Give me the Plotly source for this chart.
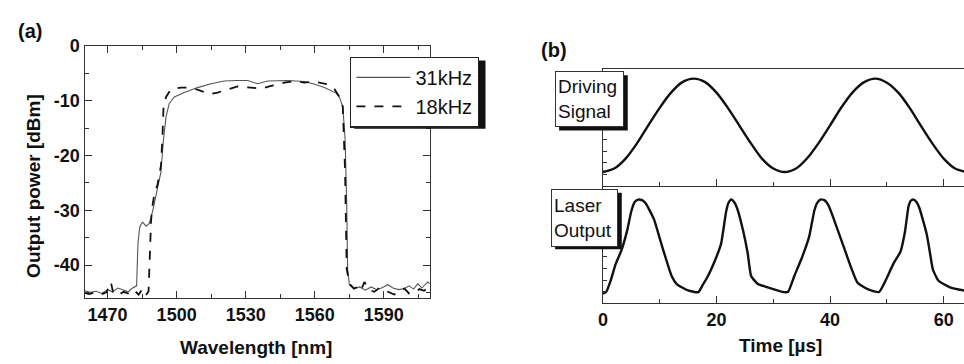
import plotly.graph_objects as go

W, H = 964, 364

# ---------------- Panel (a) data: spectra ----------------
wl_31 = [1460.0, 1462.5, 1465.0, 1467.5, 1470.0, 1472.0, 1474.5, 1477.0, 1479.0, 1480.5,
         1482.0, 1482.6, 1483.2, 1484.0, 1484.8, 1485.3, 1486.7, 1488.1, 1489.6, 1491.0,
         1492.2, 1493.2, 1494.3, 1495.4, 1496.8, 1499.0, 1503.3, 1509.1, 1514.9, 1520.7,
         1526.0, 1530.9, 1535.2, 1539.6, 1548.3, 1555.5, 1560.0, 1564.2, 1569.3, 1570.7,
         1572.2, 1573.2, 1573.9, 1574.3, 1575.1, 1577.2, 1579.5, 1582.0, 1584.5, 1587.0,
         1589.5, 1591.7, 1594.0, 1596.5, 1599.0, 1601.0, 1603.0, 1604.8, 1606.5, 1608.0,
         1609.1, 1610.0]
p_31 = [-44.7, -45.0, -44.8, -45.2, -44.5, -44.9, -44.2, -44.6, -44.9, -44.3,
        -44.0, -43.8, -36.0, -33.0, -32.4, -32.2, -32.9, -32.4, -30.1, -27.1,
        -25.0, -23.0, -17.0, -12.9, -10.5, -9.3, -8.5, -7.6, -6.9, -6.4,
        -6.3, -6.3, -6.9, -6.4, -6.3, -6.5, -7.0, -7.6, -8.6, -9.3,
        -11.1, -17.0, -28.9, -40.7, -43.7, -44.3, -44.0, -44.6, -44.0, -44.5,
        -44.1, -43.6, -44.2, -44.5, -44.3, -43.8, -44.4, -43.4, -44.2, -43.5,
        -43.1, -43.4]

wl_18 = [1460.0, 1462.0, 1464.5, 1467.0, 1469.5, 1471.4, 1472.5, 1474.5, 1477.0, 1479.5,
         1481.5, 1483.5, 1485.0, 1486.5, 1487.8, 1488.4, 1488.9, 1489.6, 1490.3, 1491.7,
         1493.2, 1493.9, 1494.3, 1495.4, 1497.5, 1501.9, 1506.2, 1510.6, 1514.2, 1517.8,
         1522.2, 1526.5, 1532.3, 1536.7, 1541.0, 1546.8, 1551.2, 1555.5, 1559.9, 1565.7,
         1568.6, 1570.7, 1572.2, 1573.2, 1573.9, 1575.1, 1577.0, 1578.7, 1580.0, 1581.6,
         1583.5, 1585.9, 1588.0, 1590.3, 1592.5, 1594.6, 1597.0, 1599.0, 1601.0, 1603.3,
         1605.5, 1607.5, 1610.0]
p_18 = [-45.1, -45.3, -45.0, -45.4, -45.0, -43.1, -45.2, -45.5, -44.9, -45.3,
        -44.6, -45.4, -44.5, -45.6, -44.8, -34.8, -31.8, -28.9, -27.1, -25.3,
        -21.8, -15.9, -11.1, -9.3, -7.9, -7.6, -7.6, -8.2, -8.8, -8.5,
        -7.9, -7.4, -7.6, -7.8, -7.3, -6.7, -6.4, -6.7, -6.5, -7.0,
        -7.9, -9.3, -11.1, -23.0, -40.7, -43.4, -44.3, -44.0, -44.7, -43.1,
        -44.5, -44.9, -44.2, -44.6, -45.0, -45.4, -44.6, -44.3, -45.2, -45.1,
        -44.4, -44.7, -44.0]

series_names = ["31kHz", "18kHz"]
wl_ticks = [1470, 1500, 1530, 1560, 1590]
p_ticks = [0, -10, -20, -30, -40]
p_ticktext = ["0", "-10", "-20", "-30", "-40"]

# ---------------- Panel (b) data: time traces ----------------
t_drive = [0, 2, 4, 6, 8, 10, 12, 14, 16, 18, 20, 22, 24, 26, 28, 30, 32,
           34, 36, 38, 40, 42, 44, 46, 48, 50, 52, 54, 56, 58, 60, 62, 64]
v_drive = [1.2, 1.5, 2.35, 3.65, 5.2, 6.7, 8.0, 8.9, 9.2, 8.9, 8.0, 6.7, 5.2, 3.7, 2.35, 1.5, 1.2,
           1.5, 2.4, 3.7, 5.2, 6.75, 8.05, 8.9, 9.2, 8.85, 8.0, 6.7, 5.15, 3.65, 2.35, 1.5, 1.2]

t_laser = [0, 0.6, 1.4, 2.2, 3.3, 4.3, 5.0, 5.6, 6.2, 6.9, 7.5, 8.2, 9.0, 10.3, 12.1, 13.0, 15.0, 16.8,
           17.6, 18.5, 20.0, 20.8, 21.7, 22.1, 22.6, 23.1, 23.6, 24.7, 25.5, 26.1, 27.3, 29.0, 31.9,
           32.6, 33.7, 35.1, 36.3, 37.2, 37.7, 38.3, 39.0, 39.6, 40.3, 42.4, 44.8, 46.5, 48.6,
           49.4, 51.2, 52.4, 53.2, 53.8, 54.2, 54.7, 55.2, 55.7, 57.0, 57.6, 58.1, 59.1, 61.1, 63.6]
v_laser = [0.83, 1.0, 2.0, 3.3, 4.6, 6.3, 7.9, 8.7, 8.9, 8.85, 8.6, 8.0, 7.2, 5.1, 2.35, 1.66, 1.11, 0.97,
           1.6, 2.35, 4.0, 5.1, 7.87, 8.6, 8.9, 8.7, 8.2, 6.21, 4.28, 2.35, 1.66, 1.38, 0.97,
           1.0, 2.35, 4.0, 5.7, 7.9, 8.6, 8.9, 8.85, 8.5, 7.7, 4.84, 1.8, 1.24, 0.97,
           1.6, 3.45, 4.45, 6.21, 8.3, 8.8, 8.9, 8.7, 8.2, 5.94, 4.28, 2.9, 1.94, 1.38, 1.11]
t_ticks = [0, 20, 40, 60]

FONT = "Liberation Sans, Arial, Helvetica, sans-serif"
AX = "#333333"

def px_x(p):
    return p / W

def px_y(p):
    return 1 - p / H

fig = go.Figure()
fig.add_trace(go.Scatter(x=wl_31, y=p_31, mode="lines", name=series_names[0],
                         line=dict(color="#555555", width=1.1), xaxis="x", yaxis="y"))
fig.add_trace(go.Scatter(x=wl_18, y=p_18, mode="lines", name=series_names[1],
                         line=dict(color="#111111", width=1.8, dash="dash"), xaxis="x", yaxis="y"))
fig.add_trace(go.Scatter(x=t_drive, y=v_drive, mode="lines", showlegend=False,
                         line=dict(color="#111111", width=2.4, shape="spline", smoothing=0.8),
                         xaxis="x2", yaxis="y2"))
fig.add_trace(go.Scatter(x=t_laser, y=v_laser, mode="lines", showlegend=False,
                         line=dict(color="#111111", width=2.4, shape="spline", smoothing=0.5),
                         xaxis="x3", yaxis="y3"))

tickfont = dict(family=FONT, size=18, color="#111111", weight="bold")
common = dict(showgrid=False, zeroline=False, showline=True, linecolor=AX, linewidth=1.4,
              ticks="inside", tickcolor=AX, tickwidth=1.2)

fig.update_layout(
    width=W, height=H, autosize=False,
    margin=dict(l=0, r=0, t=0, b=0),
    paper_bgcolor="white", plot_bgcolor="white",
    font=dict(family=FONT, color="#111111"),
    xaxis=dict(domain=[px_x(80), px_x(427)], range=[1460, 1610], anchor="y",
               tickvals=wl_ticks, ticklen=7, mirror="ticks", tickfont=tickfont,
               minor=dict(dtick=15, tick0=1455, ticks="inside", ticklen=4, tickcolor=AX),
               **common),
    yaxis=dict(domain=[px_y(296), px_y(37)], range=[-46, 0], anchor="x",
               tickvals=p_ticks, ticktext=p_ticktext, ticklen=7, mirror="ticks",
               tickfont=tickfont,
               minor=dict(dtick=5, tick0=0, ticks="inside", ticklen=4, tickcolor=AX),
               **common),
    xaxis2=dict(domain=[px_x(601), 1.0], range=[0, 63.57], anchor="y2",
                tickvals=t_ticks, ticklen=7, mirror=True, showticklabels=False,
                minor=dict(dtick=10, ticks="inside", ticklen=4, tickcolor=AX),
                **common),
    yaxis2=dict(domain=[px_y(181), px_y(61)], range=[0, 10], anchor="x2",
                dtick=1, ticklen=4, showticklabels=False, **common),
    xaxis3=dict(domain=[px_x(601), 1.0], range=[0, 63.57], anchor="y3",
                tickvals=t_ticks, ticklen=7, tickfont=tickfont,
                minor=dict(dtick=10, ticks="inside", ticklen=4, tickcolor=AX),
                **common),
    yaxis3=dict(domain=[px_y(301.7), px_y(181)], range=[0, 10.06], anchor="x3",
                dtick=1, ticklen=4, showticklabels=False, **common),
    legend=dict(x=px_x(347), y=px_y(48), xanchor="left", yanchor="top",
                bgcolor="white", bordercolor="#222222", borderwidth=1.2,
                font=dict(family=FONT, size=20, color="#111111"),
                itemwidth=54),
)

shadow = "#111111"
fig.add_shape(type="rect", xref="paper", yref="paper",
              x0=px_x(351), x1=px_x(483), y0=px_y(122), y1=px_y(52),
              fillcolor=shadow, line=dict(width=0), layer="above")
fig.add_shape(type="rect", xref="paper", yref="paper",
              x0=px_x(557), x1=px_x(626), y0=px_y(124), y1=px_y(67),
              fillcolor=shadow, line=dict(width=0), layer="above")
fig.add_shape(type="rect", xref="paper", yref="paper",
              x0=px_x(553), x1=px_x(620), y0=px_y(246), y1=px_y(188),
              fillcolor=shadow, line=dict(width=0), layer="above")

box_font = dict(family=FONT, size=19, color="#111111")
fig.add_annotation(text="Driving<br>Signal", xref="paper", yref="paper",
                   x=px_x(553), y=px_y(63), xanchor="left", yanchor="top",
                   showarrow=False, align="left", font=box_font,
                   bgcolor="white", bordercolor="#333333", borderwidth=1, borderpad=2,
                   width=63, height=50)
fig.add_annotation(text="Laser<br>Output", xref="paper", yref="paper",
                   x=px_x(549), y=px_y(184), xanchor="left", yanchor="top",
                   showarrow=False, align="left", font=box_font,
                   bgcolor="white", bordercolor="#333333", borderwidth=1, borderpad=2,
                   width=61, height=52)

lab_font = dict(family=FONT, size=20, color="#111111", weight="bold")
fig.add_annotation(text="(a)", xref="paper", yref="paper", x=px_x(11), y=px_y(22),
                   xanchor="left", yanchor="middle", showarrow=False, font=lab_font)
fig.add_annotation(text="(b)", xref="paper", yref="paper", x=px_x(537), y=px_y(41),
                   xanchor="left", yanchor="middle", showarrow=False, font=lab_font)

title_font = dict(family=FONT, size=19, color="#111111", weight="bold")
fig.add_annotation(text="Output power [dBm]", xref="paper", yref="paper",
                   x=px_x(28), y=px_y(181), xanchor="center", yanchor="middle",
                   textangle=-90, showarrow=False, font=title_font)
fig.add_annotation(text="Wavelength [nm]", xref="paper", yref="paper",
                   x=px_x(252), y=px_y(347), xanchor="center", yanchor="middle",
                   showarrow=False, font=title_font)
fig.add_annotation(text="Time [µs]", xref="paper", yref="paper",
                   x=px_x(780), y=px_y(345), xanchor="center", yanchor="middle",
                   showarrow=False, font=title_font)

fig.write_html("out.html", config={"displayModeBar": False},
               post_script="document.body.style.margin='0';")
